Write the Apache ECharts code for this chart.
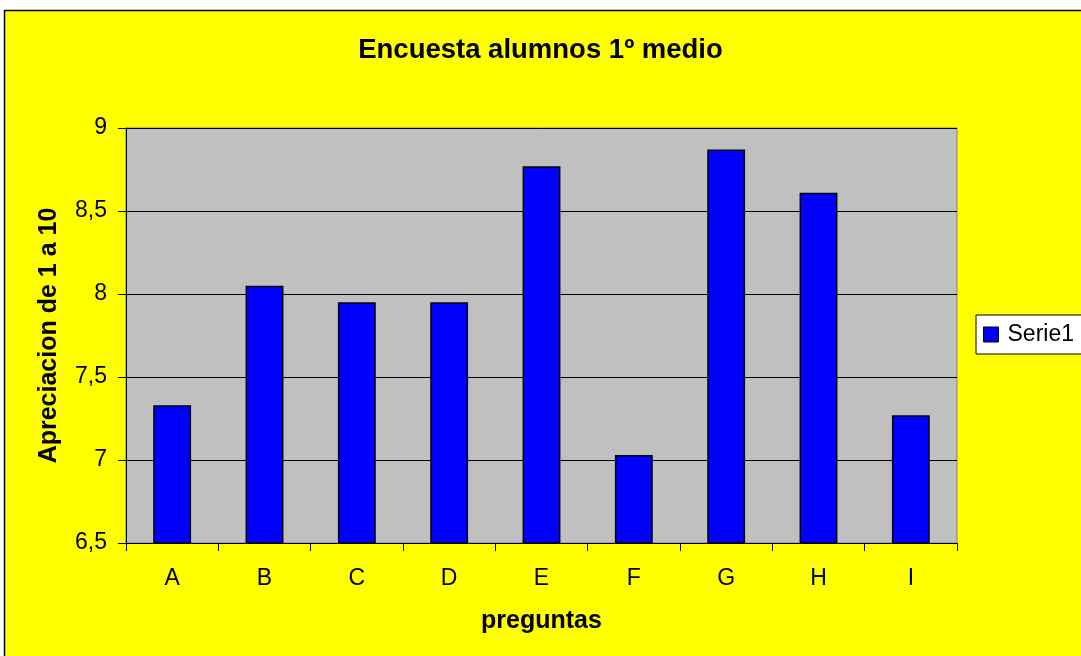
<!DOCTYPE html>
<html><head><meta charset="utf-8">
<script src="https://cdn.jsdelivr.net/npm/echarts@6/dist/echarts.min.js"></script>
<style>html,body{margin:0;padding:0;background:#fff;overflow:hidden}#c{width:1081px;height:656px}</style>
</head><body><div id="c"></div>
<script>
const categories = ['A','B','C','D','E','F','G','H','I'];
const serie1 = [7.33, 8.05, 7.95, 7.95, 8.77, 7.03, 8.87, 8.61, 7.27];
const titleText = 'Encuesta alumnos 1º medio';
const xName = 'preguntas';
const yName = 'Apreciacion de 1 a 10';
const seriesName = 'Serie1';

const chart = echarts.init(document.getElementById('c'), null, {renderer:'canvas'});
const font = 'Liberation Sans, Arial, sans-serif';
chart.setOption({
  backgroundColor: '#ffffff',
  animation: false,
  graphic: [{
    type: 'rect', z: -10, silent: true,
    shape: {x: 4.5, y: 10.5, width: 1100, height: 700},
    style: {fill: '#ffff00', stroke: '#000', lineWidth: 1.5}
  }],
  title: {
    text: titleText, left: 'center', top: 31,
    textStyle: {fontFamily: font, fontSize: 27.5, fontWeight: 'bold', color: '#000'}
  },
  legend: {
    left: 976, top: 315,
    orient: 'vertical',
    backgroundColor: '#ffffff', borderColor: '#000', borderWidth: 1,
    padding: [8, 12, 8, 7],
    itemWidth: 15, itemHeight: 15, itemGap: 5,
    icon: 'rect',
    textStyle: {fontFamily: font, fontSize: 23, color: '#000', padding: [0,0,0,4]},
    data: [{name: seriesName, itemStyle: {color: '#0000ff', borderColor: '#000', borderWidth: 1}}]
  },
  grid: {left: 126, right: 124, top: 128, bottom: 113, show: true, backgroundColor: '#c0c0c0', borderColor: '#808080', borderWidth: 1},
  xAxis: {
    type: 'category', data: categories,
    name: xName, nameLocation: 'middle', nameGap: 66,
    nameTextStyle: {fontFamily: font, fontSize: 25, fontWeight: 'bold', color: '#000'},
    axisLine: {lineStyle: {color: '#000', width: 1}},
    axisTick: {show: true, length: 8, lineStyle: {color: '#000'}},
    axisLabel: {fontFamily: font, fontSize: 23, color: '#000', margin: 24}
  },
  yAxis: {
    type: 'value', min: 6.5, max: 9, interval: 0.5,
    name: yName, nameLocation: 'middle', nameGap: 64, nameRotate: 90,
    nameTextStyle: {fontFamily: font, fontSize: 25, fontWeight: 'bold', color: '#000'},
    axisLine: {show: true, lineStyle: {color: '#000', width: 1}},
    axisTick: {show: true, length: 8, lineStyle: {color: '#000'}},
    axisLabel: {fontFamily: font, fontSize: 23, color: '#000', margin: 19,
      formatter: v => String(v).replace('.', ',')},
    splitLine: {show: true, lineStyle: {color: '#000', width: 1}}
  },
  series: [{
    name: seriesName, type: 'bar', data: serie1,
    barWidth: '41%',
    itemStyle: {color: '#0000ff', borderColor: '#000', borderWidth: 1.5}
  }]
});
</script></body></html>
